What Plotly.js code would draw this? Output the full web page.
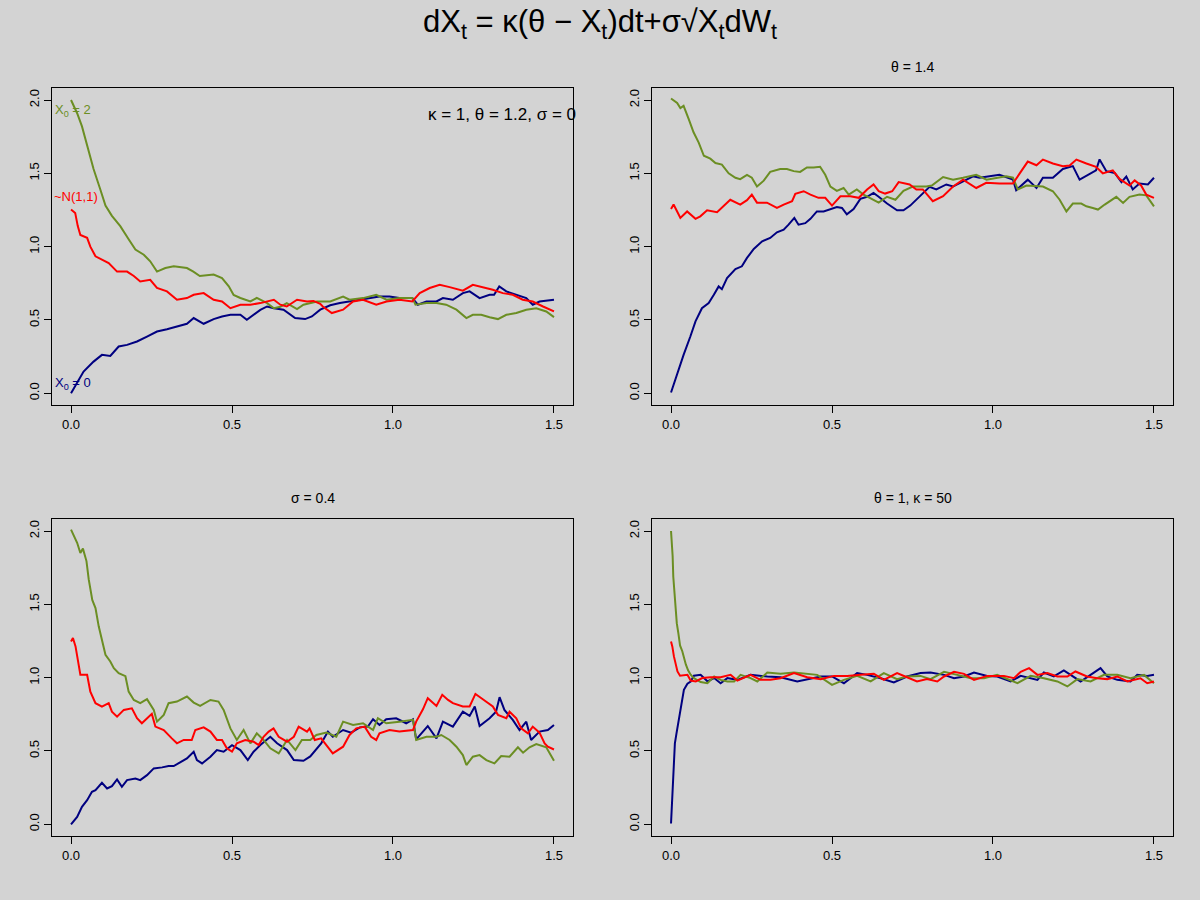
<!DOCTYPE html>
<html>
<head>
<meta charset="utf-8">
<script src="https://cdn.plot.ly/plotly-3.0.1.min.js"></script>
<style>html,body{margin:0;padding:0;background:#d3d3d3;}#chart{width:1200px;height:900px;}</style>
</head>
<body>
<div id="chart"></div>
<script>
// ---------- Data ----------
const xTickVals = [0, 0.5, 1.0, 1.5];
const xTickText = ["0.0", "0.5", "1.0", "1.5"];
const yTickVals = [0, 0.5, 1.0, 1.5, 2.0];
const yTickText = ["0.0", "0.5", "1.0", "1.5", "2.0"];

const mainTitle = "dX<sub>t</sub> = κ(θ − X<sub>t</sub>)dt+σ√X<sub>t</sub>dW<sub>t</sub>";
const panelTitles = ["", "θ = 1.4", "σ = 0.4", "θ = 1, κ = 50"];
const paramNote = "κ = 1, θ = 1.2, σ = 0";
const seriesLabels = ["X<sub>0</sub> = 2", "~N(1,1)", "X<sub>0</sub> = 0"];

// Panel 1 : kappa=1, theta=1.2
const p1_start2_t = [0,0.019,0.034,0.05,0.07,0.091,0.107,0.127,0.153,0.179,0.2,0.226,0.246,0.267,0.293,0.319,0.36,0.38,0.4,0.443,0.469,0.49,0.505,0.526,0.557,0.577,0.609,0.63,0.65,0.67,0.702,0.722,0.764,0.805,0.845,0.865,0.907,0.948,0.98,1.02,1.06,1.07,1.104,1.135,1.165,1.197,1.228,1.248,1.274,1.3,1.326,1.352,1.383,1.414,1.445,1.476,1.5];
const p1_start2_v = [2.0,1.91,1.82,1.69,1.53,1.39,1.28,1.21,1.14,1.05,0.98,0.945,0.90,0.83,0.854,0.866,0.854,0.83,0.80,0.81,0.786,0.73,0.67,0.65,0.626,0.65,0.615,0.58,0.59,0.615,0.574,0.604,0.626,0.626,0.66,0.638,0.649,0.672,0.638,0.649,0.649,0.604,0.615,0.615,0.604,0.57,0.513,0.535,0.535,0.519,0.506,0.535,0.547,0.57,0.58,0.558,0.519];
const p1_normal_t = [0,0.013,0.021,0.029,0.05,0.06,0.076,0.096,0.117,0.143,0.174,0.195,0.215,0.246,0.267,0.298,0.329,0.36,0.381,0.412,0.443,0.469,0.495,0.526,0.557,0.588,0.63,0.65,0.67,0.702,0.733,0.753,0.774,0.782,0.81,0.845,0.876,0.907,0.948,0.98,1.02,1.06,1.083,1.114,1.145,1.176,1.217,1.248,1.279,1.31,1.341,1.372,1.403,1.434,1.466,1.5];
const p1_normal_v = [1.253,1.23,1.14,1.08,1.06,1.0,0.934,0.91,0.888,0.83,0.83,0.80,0.763,0.774,0.718,0.695,0.638,0.649,0.672,0.683,0.638,0.626,0.58,0.604,0.604,0.615,0.638,0.604,0.592,0.638,0.626,0.63,0.61,0.592,0.547,0.57,0.626,0.638,0.604,0.626,0.638,0.626,0.683,0.718,0.74,0.724,0.70,0.74,0.724,0.706,0.683,0.672,0.638,0.626,0.592,0.558];
const p1_start0_t = [0,0.019,0.039,0.07,0.096,0.122,0.148,0.174,0.205,0.236,0.267,0.298,0.329,0.36,0.381,0.412,0.443,0.469,0.495,0.526,0.546,0.567,0.588,0.609,0.63,0.66,0.696,0.727,0.748,0.774,0.805,0.835,0.865,0.897,0.928,0.958,0.989,1.02,1.06,1.077,1.104,1.135,1.155,1.186,1.217,1.238,1.269,1.3,1.314,1.33,1.352,1.383,1.414,1.434,1.455,1.5];
const p1_start0_v = [0,0.068,0.148,0.216,0.262,0.255,0.319,0.33,0.353,0.387,0.421,0.437,0.456,0.474,0.513,0.474,0.506,0.524,0.535,0.535,0.501,0.535,0.569,0.592,0.58,0.57,0.513,0.506,0.524,0.57,0.6,0.615,0.626,0.638,0.649,0.66,0.66,0.649,0.649,0.604,0.626,0.626,0.649,0.638,0.683,0.695,0.649,0.672,0.672,0.729,0.695,0.672,0.649,0.604,0.626,0.638];

// Panel 2 : theta=1.4
const p2_start2_t = [0,0.019,0.029,0.039,0.055,0.07,0.086,0.102,0.122,0.138,0.158,0.179,0.2,0.215,0.236,0.251,0.267,0.288,0.308,0.339,0.36,0.381,0.401,0.422,0.443,0.463,0.479,0.495,0.515,0.536,0.552,0.577,0.598,0.619,0.645,0.671,0.697,0.722,0.751,0.793,0.81,0.845,0.876,0.907,0.948,0.98,1.02,1.041,1.062,1.077,1.104,1.135,1.155,1.186,1.207,1.228,1.248,1.274,1.29,1.31,1.326,1.347,1.383,1.404,1.424,1.455,1.476,1.5];
const p2_start2_v = [2.01,1.98,1.945,1.96,1.87,1.78,1.71,1.62,1.6,1.57,1.56,1.50,1.47,1.46,1.49,1.47,1.41,1.45,1.51,1.53,1.53,1.515,1.51,1.54,1.54,1.545,1.49,1.41,1.38,1.40,1.355,1.39,1.355,1.33,1.30,1.34,1.32,1.38,1.41,1.41,1.417,1.475,1.457,1.47,1.49,1.457,1.475,1.48,1.47,1.39,1.417,1.41,1.41,1.378,1.32,1.24,1.294,1.294,1.275,1.264,1.253,1.287,1.34,1.298,1.34,1.355,1.35,1.275];
const p2_normal_t = [0,0.008,0.019,0.029,0.05,0.076,0.091,0.112,0.143,0.163,0.184,0.215,0.236,0.251,0.267,0.298,0.329,0.35,0.376,0.386,0.412,0.433,0.458,0.479,0.5,0.526,0.557,0.583,0.609,0.629,0.645,0.665,0.687,0.707,0.741,0.762,0.782,0.813,0.845,0.876,0.907,0.948,0.979,1.02,1.062,1.083,1.108,1.135,1.155,1.186,1.217,1.238,1.259,1.29,1.32,1.341,1.372,1.393,1.424,1.44,1.46,1.476,1.5];
const p2_normal_v = [1.257,1.287,1.24,1.196,1.24,1.19,1.207,1.248,1.235,1.28,1.32,1.287,1.317,1.355,1.30,1.30,1.264,1.287,1.31,1.36,1.378,1.355,1.333,1.333,1.28,1.344,1.344,1.333,1.39,1.424,1.378,1.362,1.378,1.44,1.424,1.39,1.39,1.31,1.344,1.41,1.457,1.40,1.435,1.43,1.43,1.50,1.58,1.555,1.594,1.567,1.549,1.553,1.594,1.567,1.544,1.50,1.52,1.462,1.417,1.452,1.417,1.355,1.333];
const p2_start0_t = [0,0.019,0.039,0.06,0.076,0.096,0.117,0.133,0.148,0.158,0.174,0.2,0.22,0.236,0.257,0.283,0.308,0.329,0.35,0.365,0.383,0.396,0.417,0.433,0.453,0.474,0.495,0.515,0.531,0.546,0.567,0.588,0.609,0.629,0.645,0.671,0.702,0.722,0.743,0.772,0.803,0.824,0.855,0.876,0.907,0.938,0.958,0.989,1.02,1.062,1.072,1.108,1.135,1.155,1.186,1.217,1.248,1.269,1.3,1.32,1.331,1.352,1.378,1.399,1.414,1.434,1.455,1.481,1.5];
const p2_start0_v = [0.005,0.137,0.262,0.387,0.49,0.58,0.615,0.672,0.729,0.71,0.786,0.847,0.866,0.923,0.984,1.036,1.059,1.098,1.116,1.15,1.196,1.15,1.16,1.19,1.24,1.24,1.257,1.27,1.264,1.22,1.257,1.326,1.34,1.367,1.34,1.294,1.248,1.248,1.28,1.344,1.408,1.39,1.424,1.41,1.446,1.48,1.47,1.48,1.49,1.457,1.385,1.457,1.40,1.47,1.47,1.53,1.549,1.457,1.498,1.52,1.595,1.515,1.503,1.44,1.478,1.39,1.43,1.424,1.47];

// Panel 3 : sigma=0.4
const p3_start2_t = [0,0.008,0.019,0.029,0.037,0.048,0.055,0.066,0.076,0.086,0.096,0.107,0.122,0.133,0.148,0.169,0.179,0.195,0.215,0.236,0.257,0.267,0.288,0.303,0.329,0.36,0.381,0.401,0.433,0.458,0.474,0.495,0.515,0.536,0.557,0.577,0.598,0.619,0.645,0.671,0.697,0.717,0.743,0.762,0.793,0.824,0.845,0.876,0.907,0.938,0.953,0.979,1.02,1.062,1.072,1.104,1.135,1.15,1.176,1.197,1.217,1.228,1.248,1.269,1.29,1.315,1.336,1.362,1.388,1.404,1.424,1.445,1.476,1.5];
const p3_start2_v = [2.01,1.97,1.92,1.85,1.88,1.795,1.67,1.53,1.475,1.35,1.26,1.156,1.11,1.065,1.03,1.01,0.905,0.848,0.826,0.853,0.78,0.70,0.746,0.826,0.837,0.871,0.83,0.807,0.848,0.837,0.78,0.654,0.575,0.643,0.552,0.62,0.575,0.518,0.483,0.575,0.506,0.575,0.575,0.609,0.625,0.597,0.70,0.677,0.689,0.643,0.723,0.689,0.70,0.712,0.575,0.597,0.597,0.609,0.575,0.529,0.472,0.404,0.461,0.472,0.438,0.415,0.465,0.461,0.525,0.488,0.525,0.547,0.525,0.433];
const p3_normal_t = [0,0.006,0.014,0.021,0.029,0.05,0.06,0.076,0.096,0.117,0.127,0.143,0.164,0.189,0.205,0.22,0.236,0.251,0.262,0.288,0.313,0.329,0.35,0.375,0.386,0.412,0.433,0.453,0.469,0.484,0.5,0.515,0.541,0.567,0.583,0.598,0.614,0.629,0.645,0.671,0.692,0.707,0.733,0.741,0.757,0.777,0.793,0.813,0.845,0.865,0.886,0.912,0.932,0.948,0.958,0.989,1.02,1.062,1.072,1.093,1.108,1.135,1.153,1.171,1.186,1.217,1.238,1.256,1.279,1.31,1.326,1.352,1.362,1.383,1.398,1.419,1.434,1.455,1.471,1.481,1.5];
const p3_normal_v = [1.247,1.27,1.213,1.122,1.02,1.02,0.905,0.826,0.803,0.826,0.768,0.734,0.78,0.791,0.723,0.689,0.723,0.753,0.666,0.643,0.586,0.552,0.575,0.575,0.643,0.661,0.632,0.575,0.575,0.518,0.495,0.552,0.575,0.563,0.54,0.597,0.632,0.654,0.597,0.563,0.597,0.666,0.632,0.654,0.575,0.586,0.54,0.483,0.529,0.609,0.654,0.666,0.597,0.575,0.62,0.643,0.632,0.643,0.70,0.784,0.86,0.807,0.883,0.848,0.826,0.803,0.803,0.889,0.853,0.803,0.746,0.723,0.768,0.723,0.654,0.62,0.666,0.625,0.552,0.529,0.51];
const p3_start0_t = [0,0.019,0.034,0.05,0.065,0.076,0.096,0.112,0.127,0.143,0.158,0.174,0.2,0.215,0.236,0.257,0.283,0.303,0.319,0.34,0.36,0.381,0.391,0.407,0.433,0.453,0.474,0.5,0.526,0.549,0.567,0.588,0.619,0.64,0.671,0.692,0.722,0.743,0.777,0.798,0.813,0.845,0.87,0.897,0.922,0.938,0.958,0.979,1.01,1.041,1.062,1.072,1.088,1.108,1.135,1.155,1.186,1.217,1.238,1.254,1.269,1.3,1.32,1.331,1.346,1.372,1.393,1.414,1.429,1.455,1.481,1.5];
const p3_start0_v = [0,0.05,0.119,0.164,0.221,0.233,0.283,0.244,0.26,0.306,0.255,0.301,0.312,0.301,0.335,0.381,0.388,0.397,0.397,0.426,0.449,0.495,0.438,0.415,0.461,0.506,0.495,0.54,0.506,0.438,0.495,0.54,0.597,0.552,0.506,0.438,0.433,0.463,0.552,0.632,0.597,0.643,0.625,0.661,0.666,0.716,0.677,0.716,0.723,0.689,0.716,0.579,0.62,0.67,0.586,0.70,0.666,0.768,0.739,0.803,0.67,0.723,0.768,0.867,0.78,0.712,0.643,0.70,0.575,0.632,0.643,0.677];

// Panel 4 : theta=1, kappa=50
const p4_start2_t = [0,0.002,0.005,0.007,0.01,0.014,0.018,0.023,0.028,0.035,0.04,0.046,0.053,0.061,0.071,0.092,0.113,0.134,0.154,0.175,0.196,0.216,0.247,0.268,0.299,0.34,0.382,0.423,0.454,0.5,0.537,0.578,0.62,0.661,0.702,0.733,0.775,0.806,0.848,0.889,0.931,0.972,1.013,1.076,1.117,1.158,1.2,1.231,1.262,1.303,1.345,1.386,1.427,1.469,1.5];
const p4_start2_v = [2.0,1.94,1.83,1.69,1.58,1.46,1.37,1.30,1.22,1.18,1.13,1.09,1.05,1.02,0.997,0.97,0.962,1.008,0.985,0.974,0.974,1.019,0.997,0.974,1.035,1.026,1.035,1.026,1.019,0.951,0.985,1.012,0.974,1.031,0.99,1.008,1.012,0.99,1.040,1.019,0.996,0.996,1.019,0.962,1.012,0.996,0.974,0.94,0.99,0.974,1.019,1.019,0.996,1.019,0.962];
const p4_normal_t = [0,0.004,0.009,0.015,0.02,0.028,0.04,0.051,0.061,0.077,0.097,0.123,0.154,0.185,0.206,0.247,0.278,0.309,0.34,0.382,0.423,0.465,0.506,0.547,0.589,0.63,0.661,0.702,0.733,0.764,0.795,0.827,0.848,0.879,0.91,0.941,0.982,1.034,1.065,1.086,1.112,1.138,1.169,1.2,1.231,1.256,1.292,1.324,1.355,1.386,1.417,1.458,1.479,1.5];
const p4_normal_v = [1.247,1.213,1.145,1.088,1.042,1.013,1.015,1.019,0.98,0.974,0.997,1.003,1.003,1.019,0.98,1.019,0.985,0.985,0.996,1.031,1.003,0.99,1.012,1.012,1.019,1.026,0.985,1.031,1.003,0.974,0.99,0.974,1.008,1.04,1.026,0.985,1.012,1.012,0.996,1.04,1.065,1.019,1.031,1.008,1.008,1.042,1.008,0.996,0.99,1.008,0.974,0.996,0.962,0.974];
const p4_start0_t = [0,0.003,0.006,0.009,0.012,0.017,0.022,0.028,0.033,0.04,0.051,0.061,0.071,0.092,0.113,0.134,0.154,0.175,0.206,0.247,0.299,0.34,0.392,0.423,0.465,0.5,0.537,0.578,0.609,0.651,0.692,0.733,0.775,0.806,0.848,0.879,0.91,0.941,0.982,1.013,1.055,1.086,1.117,1.138,1.158,1.189,1.22,1.241,1.272,1.303,1.334,1.355,1.386,1.427,1.448,1.479,1.5];
const p4_start0_v = [0.005,0.164,0.324,0.415,0.552,0.62,0.689,0.78,0.848,0.917,0.958,0.974,1.013,1.019,0.975,0.997,0.962,0.997,0.985,1.019,1.008,1.003,0.974,0.99,1.008,1.008,0.962,1.031,1.019,0.996,0.967,1.008,1.031,1.035,1.019,0.996,1.008,1.035,1.012,1.008,0.974,1.012,0.996,0.985,1.035,1.008,1.049,1.019,0.974,1.019,1.065,1.008,0.985,0.974,1.019,1.012,1.019];

// ---------- Styles ----------
const COL_START0 = "#000080";
const COL_START2 = "#6B8E23";
const COL_NORMAL = "#FF0000";
const FONT = "Liberation Sans, Arial, sans-serif";

const panels = [
  {s0: [p1_start0_t, p1_start0_v], s2: [p1_start2_t, p1_start2_v], n: [p1_normal_t, p1_normal_v]},
  {s0: [p2_start0_t, p2_start0_v], s2: [p2_start2_t, p2_start2_v], n: [p2_normal_t, p2_normal_v]},
  {s0: [p3_start0_t, p3_start0_v], s2: [p3_start2_t, p3_start2_v], n: [p3_normal_t, p3_normal_v]},
  {s0: [p4_start0_t, p4_start0_v], s2: [p4_start2_t, p4_start2_v], n: [p4_normal_t, p4_normal_v]}
];

const traces = [];
panels.forEach((p, i) => {
  const xa = i === 0 ? "x" : "x" + (i + 1);
  const ya = i === 0 ? "y" : "y" + (i + 1);
  [[p.s0, COL_START0], [p.s2, COL_START2], [p.n, COL_NORMAL]].forEach(([d, c]) => {
    traces.push({x: d[0], y: d[1], xaxis: xa, yaxis: ya, type: "scatter", mode: "lines",
      line: {color: c, width: 2}, hoverinfo: "skip"});
  });
});

// pixel-based domains
const W = 1200, H = 900;
const colX = [[51.7, 573.3], [651.7, 1173.3]];
const rowY = [[88.3, 405], [519.3, 836]];
const layout = {
  width: W, height: H,
  margin: {l: 0, r: 0, t: 0, b: 0},
  paper_bgcolor: "#d3d3d3", plot_bgcolor: "#d3d3d3",
  showlegend: false,
  font: {family: FONT, size: 13, color: "#000"},
  annotations: [], shapes: []
};
for (let i = 0; i < 4; i++) {
  const c = colX[i % 2], r = rowY[Math.floor(i / 2)];
  const sx = i === 0 ? "" : String(i + 1);
  layout["xaxis" + sx] = {
    domain: [c[0] / W, c[1] / W], anchor: "y" + sx, range: [-0.06, 1.56],
    tickvals: xTickVals, ticktext: xTickText, ticks: "outside", ticklen: 7, tickcolor: "#000",
    showline: true, mirror: true, linecolor: "#000", linewidth: 1,
    showgrid: false, zeroline: false, tickfont: {family: FONT, size: 13, color: "#000"}
  };
  layout["yaxis" + sx] = {
    domain: [1 - r[1] / H, 1 - r[0] / H], anchor: "x" + sx, range: [-0.08, 2.08],
    tickvals: yTickVals, ticktext: yTickText, ticks: "outside", ticklen: 7, tickcolor: "#000",
    tickangle: -90,
    showline: true, mirror: true, linecolor: "#000", linewidth: 1,
    showgrid: false, zeroline: false, tickfont: {family: FONT, size: 13, color: "#000"}
  };
  if (panelTitles[i]) {
    layout.annotations.push({text: panelTitles[i], xref: "paper", yref: "paper",
      x: (c[0] + c[1]) / 2 / W, y: 1 - (r[0] - 21) / H, xanchor: "center", yanchor: "middle",
      showarrow: false, font: {family: FONT, size: 14, color: "#000"}});
  }
}
layout.annotations.push({text: mainTitle, xref: "paper", yref: "paper", x: 0.5, y: 1 - 24 / H,
  xanchor: "center", yanchor: "middle", showarrow: false, font: {family: FONT, size: 31, color: "#000"}});
layout.annotations.push({text: paramNote, xref: "paper", yref: "paper", x: 578 / W, y: 1 - 115 / H,
  xanchor: "right", yanchor: "middle", showarrow: false, font: {family: FONT, size: 17, color: "#000"}});
layout.annotations.push({text: seriesLabels[0], xref: "x", yref: "y", x: -0.055, y: 1.93,
  xanchor: "left", yanchor: "middle", showarrow: false, font: {family: FONT, size: 13, color: COL_START2}});
layout.annotations.push({text: seriesLabels[1], xref: "x", yref: "y", x: -0.058, y: 1.345,
  xanchor: "left", yanchor: "middle", showarrow: false, font: {family: FONT, size: 13, color: COL_NORMAL}});
layout.annotations.push({text: seriesLabels[2], xref: "x", yref: "y", x: -0.055, y: 0.07,
  xanchor: "left", yanchor: "middle", showarrow: false, font: {family: FONT, size: 13, color: COL_START0}});

Plotly.newPlot("chart", traces, layout, {displayModeBar: false, staticPlot: true});
</script>
</body>
</html>
